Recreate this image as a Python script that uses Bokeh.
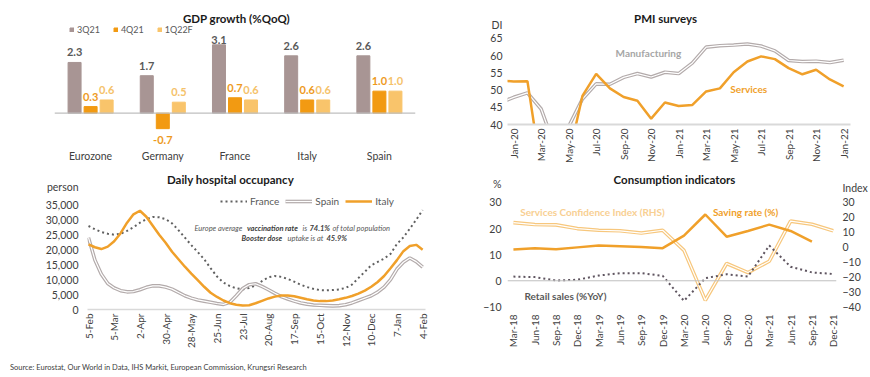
from bokeh.plotting import figure
from bokeh.layouts import column, row
from bokeh.models import (Range1d, FactorRange, ColumnDataSource, Legend, LegendItem, Label, Span,
                          FixedTicker, LinearAxis, NumeralTickFormatter, Div, Plot)
from bokeh.transform import dodge
from bokeh.core.properties import value
from bokeh.embed import file_html
from bokeh.resources import INLINE

FONT = "Lato"
TXT = "#404040"
GREY_TXT = "#595959"
TITLE_C = "#1a1a1a"
ORANGE = "#F0A02A"
LIGHT_OR = "#F7C77D"
DBL_GREY = "#b3abab"

# ---------------- data ----------------
gdp_countries = ["Eurozone", "Germany", "France", "Italy", "Spain"]
gdp_series = ["3Q21", "4Q21", "1Q22F"]
gdp_3q21 = [2.3, 1.7, 3.1, 2.6, 2.6]
gdp_4q21 = [0.3, -0.7, 0.7, 0.6, 1.0]
gdp_1q22f = [0.6, 0.5, 0.6, 0.6, 1.0]

pmi_unit = "DI"
pmi_months = ["Dec-19", "Jan-20", "Feb-20", "Mar-20", "Apr-20", "May-20", "Jun-20", "Jul-20", "Aug-20",
              "Sep-20", "Oct-20", "Nov-20", "Dec-20", "Jan-21", "Feb-21", "Mar-21", "Apr-21", "May-21",
              "Jun-21", "Jul-21", "Aug-21", "Sep-21", "Oct-21", "Nov-21", "Dec-21", "Jan-22"]
pmi_manufacturing = [46.3, 47.9, 49.2, 44.5, 33.4, 39.4, 47.4, 51.8, 51.7, 53.7, 54.8, 53.8, 55.2,
                     54.8, 57.9, 62.5, 62.9, 63.1, 63.4, 62.8, 61.4, 58.6, 58.3, 58.4, 58.0, 58.7]
pmi_services = [52.8, 52.5, 52.6, 26.4, 12.0, 30.5, 48.3, 54.7, 50.5, 48.0, 46.9, 41.7, 46.4,
                45.4, 45.7, 49.6, 50.5, 55.2, 58.3, 59.8, 59.0, 56.4, 54.6, 55.9, 53.1, 51.1]

hosp_unit = "person"
hosp_tick_labels = ["5-Feb", "5-Mar", "2-Apr", "30-Apr", "28-May", "25-Jun", "23-Jul", "20-Aug",
                    "17-Sep", "15-Oct", "12-Nov", "10-Dec", "7-Jan", "4-Feb"]
hosp_days = list(range(0, 365, 7))  # days since 5-Feb-2021, weekly
hosp_france = [27.9, 26.8, 25.9, 25.3, 25.0, 25.3, 26.3, 27.5, 29.0, 30.2,
               30.9, 30.8, 30.2, 28.8, 26.5, 24.0, 21.5, 19.2, 16.8, 13.8,
               11.0, 9.0, 7.8, 7.1, 6.7, 7.2, 8.0, 9.5, 10.8, 11.2,
               10.9, 10.2, 9.3, 8.3, 7.5, 6.9, 6.5, 6.4, 6.5, 6.7,
               7.2, 8.3, 10.5, 12.6, 14.8, 15.9, 17.0, 18.6, 21.9, 24.1,
               27.0, 30.0, 33.2]
hosp_spain = [24.0, 16.5, 11.8, 8.7, 7.2, 6.3, 5.9, 6.0, 6.6, 7.4,
              7.9, 7.9, 7.5, 6.8, 5.7, 4.6, 3.8, 3.2, 2.8, 2.4,
              2.0, 1.7, 2.4, 4.6, 7.0, 8.3, 8.6, 7.7, 6.6, 5.4,
              4.3, 3.5, 2.8, 2.2, 1.8, 1.5, 1.4, 1.3, 1.2, 1.3,
              1.6, 2.2, 3.0, 3.8, 4.6, 5.8, 7.5, 10.0, 13.5, 15.8,
              17.2, 16.0, 14.2]
hosp_italy = [21.8, 20.8, 20.2, 21.0, 22.8, 25.5, 29.0, 31.8, 33.0, 31.0,
              28.0, 25.0, 22.3, 19.3, 16.8, 14.3, 12.0, 9.8, 7.6, 5.6,
              4.2, 3.0, 2.1, 1.6, 1.3, 1.4, 2.1, 2.9, 3.7, 4.3,
              4.7, 4.7, 4.4, 3.9, 3.4, 3.0, 2.8, 2.8, 3.0, 3.4,
              3.9, 4.5, 5.3, 6.3, 7.6, 9.2, 11.2, 13.8, 16.5, 19.5,
              21.2, 21.6, 20.0]

cons_unit_left = "%"
cons_unit_right = "Index"
cons_quarters = ["Mar-18", "Jun-18", "Sep-18", "Dec-18", "Mar-19", "Jun-19", "Sep-19", "Dec-19",
                 "Mar-20", "Jun-20", "Sep-20", "Dec-20", "Mar-21", "Jun-21", "Sep-21", "Dec-21"]
cons_services_conf = [16.5, 15.2, 15.0, 12.5, 11.4, 11.0, 9.5, 11.4,
                      -2.1, -35.6, -10.9, -17.0, -9.4, 17.5, 15.4, 11.0]
cons_saving_rate = [12.0, 12.5, 12.1, 12.8, 13.5, 13.2, 12.9, 12.5,
                    17.3, 25.4, 16.9, 19.1, 21.5, 19.1, 15.0]
cons_retail = [1.6, 1.4, 0.1, 0.4, 2.0, 2.9, 2.9, 1.9,
               -7.7, 1.0, 2.5, 1.6, 13.5, 5.4, 3.2, 2.6]

SOURCE = "Source: Eurostat, Our World in Data, IHS Markit, European Commission, Krungsri Research"

HAS_FRAME_ALIGN = "frame_align" in Plot.properties()


def base(p):
    if HAS_FRAME_ALIGN:
        p.frame_align = False
    p.xgrid.visible = False
    p.ygrid.visible = False
    p.outline_line_color = None
    p.background_fill_color = "white"
    p.border_fill_color = "white"
    for ax in p.axis:
        ax.major_tick_line_color = None
        ax.minor_tick_line_color = None
        ax.major_tick_out = 0
        ax.major_tick_in = 0
        ax.minor_tick_out = 0
        ax.minor_tick_in = 0
        ax.major_label_text_font = FONT
        ax.major_label_text_color = TXT


def screen_label(p, x, y, text, size="11.5px", style="bold", color=TITLE_C, align="center"):
    p.add_layout(Label(x=x, y=y, x_units="screen", y_units="screen", text=text,
                       text_font=FONT, text_font_size=size, text_font_style=style,
                       text_color=color, text_align=align, text_baseline="middle"))


# ---------------- GDP ----------------
p1 = figure(width=435, height=165, x_range=FactorRange(*gdp_countries), y_range=Range1d(-1.464, 4.882),
            output_backend="svg", toolbar_location=None, tools="", title=None,
            min_border_left=54, min_border_right=20, min_border_top=5, min_border_bottom=20)
base(p1)
p1.yaxis.visible = False
p1.xaxis.axis_line_color = None
p1.xaxis.major_label_text_font_size = "10.5px"
p1.xaxis.major_label_standoff = 4
p1.add_layout(Span(location=0, dimension="width", line_color="#bfbfbf", line_width=1.2))

px_per_unit = 22.06
gdp_cols = [gdp_3q21, gdp_4q21, gdp_1q22f]
bar_colors = ["#A89594", "#F29A12", "#F9C46B"]
lbl_colors = [GREY_TXT, "#EE9A1E", "#F5C26A"]
offsets = [-0.222, 0.0, 0.222]
items = []
for name, vals, bc, lc, off in zip(gdp_series, gdp_cols, bar_colors, lbl_colors, offsets):
    ly = [min(v + 10 / px_per_unit, 3.34) if v >= 0 else v - 11 / px_per_unit for v in vals]
    src = ColumnDataSource(dict(cat=gdp_countries, v=vals, ly=ly, lbl=["%.1f" % v for v in vals]))
    r = p1.vbar(x=dodge("cat", off, range=p1.x_range), top="v", bottom=0, width=0.18,
                color=bc, source=src)
    p1.text(x=dodge("cat", off, range=p1.x_range), y="ly", text="lbl", source=src,
            text_align="center", text_baseline="middle", text_font=value(FONT),
            text_font_style="bold", text_font_size="11px", text_color=lc)
    items.append(LegendItem(label=name, renderers=[r]))
leg1 = Legend(items=items, orientation="horizontal", location=(15, 110), glyph_width=5, glyph_height=5,
              label_height=10, label_text_font=FONT, label_text_font_size="9px", label_text_color=GREY_TXT,
              label_standoff=3, spacing=13, padding=0, margin=0, border_line_color=None,
              background_fill_alpha=0)
p1.add_layout(leg1)
screen_label(p1, 182, 127, "GDP growth (%QoQ)")

# ---------------- PMI ----------------
pmi_x = list(range(-1, len(pmi_months) - 1))
p2 = figure(width=435, height=165, x_range=Range1d(-0.45, 24.5), y_range=Range1d(40, 74.59),
            output_backend="svg", toolbar_location=None, tools="", title=None,
            min_border_left=72, min_border_right=20, min_border_top=5, min_border_bottom=41)
base(p2)
p2.xaxis.ticker = FixedTicker(ticks=list(range(0, 25, 2)))
p2.xaxis.major_label_overrides = {i: pmi_months[i + 1] for i in range(0, 25, 2)}
p2.xaxis.major_label_orientation = 3.14159 / 2
p2.xaxis.major_label_text_font_size = "10px"
p2.xaxis.axis_line_color = "#d9d9d9"
p2.xaxis.axis_line_width = 2
p2.xaxis.major_label_standoff = 4
p2.yaxis.ticker = FixedTicker(ticks=[40, 45, 50, 55, 60, 65, 69])
p2.yaxis.major_label_overrides = {69: pmi_unit}
p2.yaxis.axis_line_color = None
p2.yaxis.major_label_text_font_size = "10.5px"
p2.yaxis.major_label_standoff = 5
p2.line(pmi_x, pmi_manufacturing, line_color=DBL_GREY, line_width=3.6)
p2.line(pmi_x, pmi_manufacturing, line_color="white", line_width=1.2)
p2.line(pmi_x, pmi_services, line_color=ORANGE, line_width=2.5)
p2.add_layout(Label(x=9.8, y=60.9, text="Manufacturing", text_font=FONT, text_font_size="10px",
                    text_font_style="bold", text_color="#a6a6a6", text_align="center", text_baseline="middle"))
p2.add_layout(Label(x=17.1, y=50.2, text="Services", text_font=FONT, text_font_size="10px",
                    text_font_style="bold", text_color=ORANGE, text_align="center", text_baseline="middle"))
screen_label(p2, 158, 106, "PMI surveys")

# ---------------- Hospital ----------------
p3 = figure(width=435, height=185, x_range=Range1d(-1.1, 367.1), y_range=Range1d(0, 46450),
            output_backend="svg", toolbar_location=None, tools="", title=None,
            min_border_left=87, min_border_right=10, min_border_top=5, min_border_bottom=38)
base(p3)
p3.xaxis.ticker = FixedTicker(ticks=list(range(0, 365, 28)))
p3.xaxis.major_label_overrides = {d: lab for d, lab in zip(range(0, 365, 28), hosp_tick_labels)}
p3.xaxis.major_label_orientation = 3.14159 / 2
p3.xaxis.major_label_text_font_size = "10px"
p3.xaxis.axis_line_color = "#d9d9d9"
p3.xaxis.axis_line_width = 1.5
p3.xaxis.major_label_standoff = 4
p3.yaxis.ticker = FixedTicker(ticks=list(range(0, 35001, 5000)) + [41000])
p3.yaxis.formatter = NumeralTickFormatter(format="0,0")
p3.yaxis.major_label_overrides = {41000: hosp_unit}
p3.yaxis.axis_line_color = None
p3.yaxis.major_label_text_font_size = "10.5px"
p3.yaxis.major_label_standoff = 9
fr = p3.line(hosp_days, [v * 1000 for v in hosp_france], line_color="#606060", line_width=2,
             line_dash="2 3")
sp_o = p3.line(hosp_days, [v * 1000 for v in hosp_spain], line_color=DBL_GREY, line_width=3.6)
sp_i = p3.line(hosp_days, [v * 1000 for v in hosp_spain], line_color="white", line_width=1.2)
it = p3.line(hosp_days, [v * 1000 for v in hosp_italy], line_color=ORANGE, line_width=2.5)
leg3 = Legend(items=[LegendItem(label="France", renderers=[fr]),
                     LegendItem(label="Spain", renderers=[sp_o, sp_i]),
                     LegendItem(label="Italy", renderers=[it])],
              orientation="horizontal", location=(133, 102), glyph_width=27, glyph_height=8,
              label_height=12, label_text_font=FONT, label_text_font_size="10px",
              label_text_color=GREY_TXT, label_standoff=3, spacing=6, padding=0, margin=0,
              border_line_color=None, background_fill_alpha=0)
p3.add_layout(leg3)
screen_label(p3, 143, 130, "Daily hospital occupancy")
ann = [
    (107, 81, "Europe average", "italic", GREY_TXT),
    (159.5, 81, "vaccination rate", "bold italic", "#404040"),
    (215, 81, "is", "italic", GREY_TXT),
    (222, 81, "74.1%", "bold italic", "#404040"),
    (245, 81, "of total population", "italic", GREY_TXT),
    (154, 71, "Booster dose", "bold italic", "#404040"),
    (200, 71, "uptake is at", "italic", GREY_TXT),
    (239, 71, "45.9%", "bold italic", "#404040"),
]
for x, y, t, st, c in ann:
    screen_label(p3, x, y, t, size="7.5px", style=st, color=c, align="left")

# ---------------- Consumption ----------------
cons_x = list(range(len(cons_quarters)))
p4 = figure(width=435, height=185, x_range=Range1d(-0.278, 15.153), y_range=Range1d(-11.01, 42.26),
            output_backend="svg", toolbar_location=None, tools="", title=None,
            min_border_left=72, min_border_right=30, min_border_top=5, min_border_bottom=38)
p4.extra_y_ranges = {"idx": Range1d(-41.77, 51.46)}
p4.add_layout(LinearAxis(y_range_name="idx"), "right")
base(p4)
p4.xaxis.ticker = FixedTicker(ticks=cons_x)
p4.xaxis.major_label_overrides = {i: q for i, q in enumerate(cons_quarters)}
p4.xaxis.major_label_orientation = 3.14159 / 2
p4.xaxis.major_label_text_font_size = "10px"
p4.xaxis.axis_line_color = None
p4.xaxis.major_label_standoff = 5
p4.yaxis[0].ticker = FixedTicker(ticks=[-10, 0, 10, 20, 30, 37])
p4.yaxis[0].major_label_overrides = {37: cons_unit_left}
p4.yaxis[1].ticker = FixedTicker(ticks=[-40, -30, -20, -10, 0, 10, 20, 30, 40])
p4.yaxis[1].major_label_overrides = {40: cons_unit_right}
for ax in p4.yaxis:
    ax.axis_line_color = None
    ax.major_label_text_font_size = "10.5px"
p4.yaxis[0].major_label_standoff = 6
p4.yaxis[1].major_label_standoff = 6
p4.add_layout(Span(location=0, dimension="width", line_color="#bfbfbf", line_width=1))
p4.line(cons_x, cons_services_conf, y_range_name="idx", line_color=LIGHT_OR, line_width=3.6)
p4.line(cons_x, cons_services_conf, y_range_name="idx", line_color="white", line_width=1.2)
p4.line(cons_x[:len(cons_saving_rate)], cons_saving_rate, line_color=ORANGE, line_width=2.5)
p4.line(cons_x, cons_retail, line_color="#5f5560", line_width=2, line_dash="2 3")
p4.add_layout(Label(x=3.71, y=26.25, text="Services Confidence Index (RHS)", text_font=FONT,
                    text_font_size="10px", text_font_style="bold", text_color="#F8CF92",
                    text_align="center", text_baseline="middle"))
p4.add_layout(Label(x=10.89, y=26.25, text="Saving rate (%)", text_font=FONT,
                    text_font_size="10px", text_font_style="bold", text_color=ORANGE,
                    text_align="center", text_baseline="middle"))
p4.add_layout(Label(x=2.44, y=-5.85, text="Retail sales (%YoY)", text_font=FONT,
                    text_font_size="10px", text_font_style="bold", text_color=GREY_TXT,
                    text_align="center", text_baseline="middle"))
screen_label(p4, 167, 130, "Consumption indicators")

src_div = Div(text='<div style="padding:8px 0 0 5px; font-family:Lato; font-size:7.5px; color:#404040; '
                   'white-space:nowrap;">' + SOURCE + '</div>',
              width=870, height=27)

if HAS_FRAME_ALIGN:
    layout = column(row(p1, p2), row(p3, p4), src_div)
else:
    layout = column(row(column(p1), column(p2)), row(column(p3), column(p4)), src_div)
open("out.html", "w").write(file_html(layout, INLINE))
